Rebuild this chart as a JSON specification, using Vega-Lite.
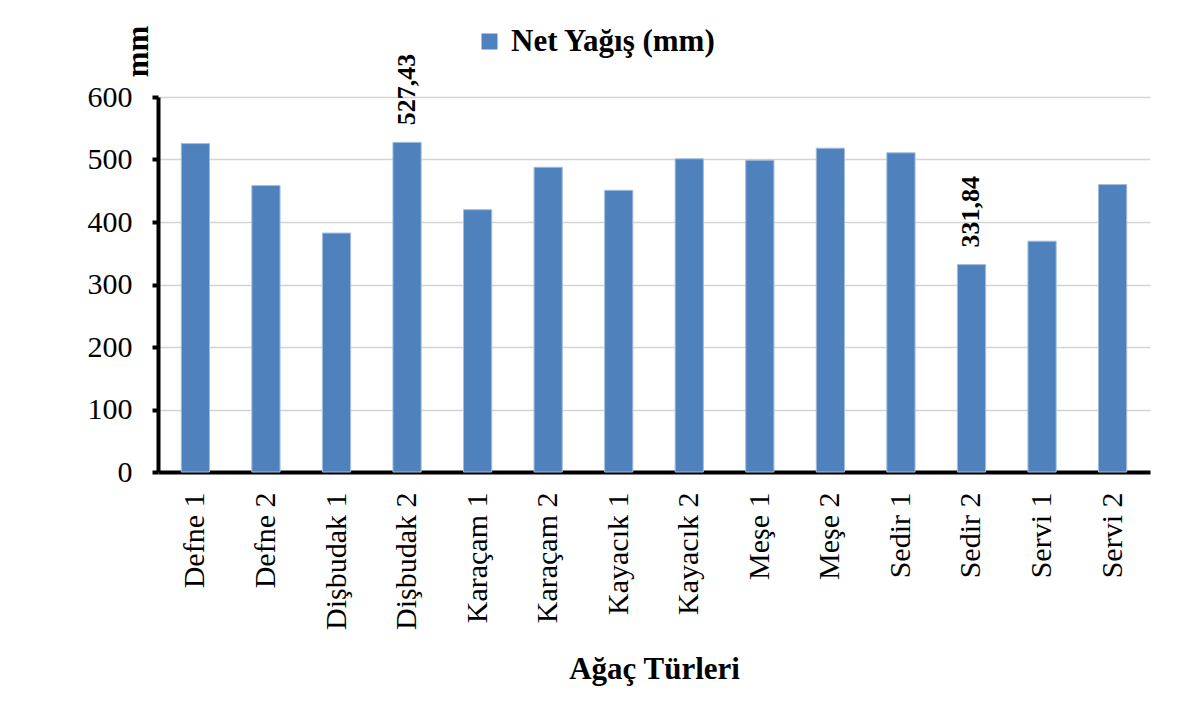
{
  "$schema": "https://vega.github.io/schema/vega-lite/v6.json",
  "autosize": {"type": "none"},
  "width": 992,
  "height": 375,
  "padding": {"left": 158, "top": 97, "right": 34, "bottom": 250},
  "background": "white",
  "config": {
    "font": "Liberation Serif",
    "view": {"stroke": null}
  },
  "data": {
    "values": [
      {"tur": "Defne 1", "yagis": 525.5, "label": ""},
      {"tur": "Defne 2", "yagis": 458.3, "label": ""},
      {"tur": "Dişbudak 1", "yagis": 382.3, "label": ""},
      {"tur": "Dişbudak 2", "yagis": 527.43, "label": "527,43"},
      {"tur": "Karaçam 1", "yagis": 419.7, "label": ""},
      {"tur": "Karaçam 2", "yagis": 487.6, "label": ""},
      {"tur": "Kayacık 1", "yagis": 450.7, "label": ""},
      {"tur": "Kayacık 2", "yagis": 501.1, "label": ""},
      {"tur": "Meşe 1", "yagis": 498.9, "label": ""},
      {"tur": "Meşe 2", "yagis": 518.1, "label": ""},
      {"tur": "Sedir 1", "yagis": 510.7, "label": ""},
      {"tur": "Sedir 2", "yagis": 331.84, "label": "331,84"},
      {"tur": "Servi 1", "yagis": 369.3, "label": ""},
      {"tur": "Servi 2", "yagis": 459.9, "label": ""}
    ]
  },
  "encoding": {
    "x": {
      "field": "tur",
      "type": "nominal",
      "sort": null,
      "scale": {"paddingInner": 0.6, "paddingOuter": 0.33},
      "axis": {
        "title": "Ağaç Türleri",
        "titleFont": "Liberation Serif",
        "titleFontSize": 31,
        "titleFontWeight": "bold",
        "titleColor": "black",
        "titleY": 206,
        "titleBaseline": "alphabetic",
        "labelAngle": -90,
        "labelFont": "Liberation Serif",
        "labelFontSize": 30,
        "labelColor": "black",
        "labelPadding": 20,
        "ticks": false,
        "tickSize": 0,
        "domainColor": "black",
        "domainWidth": 4
      }
    },
    "y": {
      "field": "yagis",
      "type": "quantitative",
      "scale": {"domain": [0, 600], "nice": false},
      "axis": {
        "values": [0, 100, 200, 300, 400, 500, 600],
        "title": "mm",
        "titleFont": "Liberation Serif",
        "titleFontSize": 31,
        "titleFontWeight": "bold",
        "titleColor": "black",
        "titleAngle": 270,
        "titleX": -11,
        "titleY": -46,
        "titleAlign": "center",
        "titleBaseline": "alphabetic",
        "labelFont": "Liberation Serif",
        "labelFontSize": 30,
        "labelColor": "black",
        "labelPadding": 20,
        "tickColor": "black",
        "tickWidth": 4,
        "tickSize": 6,
        "domainColor": "black",
        "domainWidth": 4,
        "grid": true,
        "gridColor": "#D4D4D4",
        "gridWidth": 1.5
      }
    }
  },
  "layer": [
    {
      "mark": {"type": "bar", "stroke": "#A3BDDD", "strokeWidth": 1},
      "encoding": {
        "color": {
          "datum": "Net Yağış (mm)",
          "type": "nominal",
          "scale": {"range": ["#4F81BD"]},
          "legend": {
            "title": null,
            "orient": "none",
            "legendX": 316,
            "legendY": -71,
            "padding": 0,
            "symbolType": "square",
            "symbolSize": 256,
            "symbolStrokeWidth": 0,
            "labelFont": "Liberation Serif",
            "labelFontSize": 31,
            "labelFontWeight": "bold",
            "labelColor": "black",
            "labelOffset": 6,
            "labelLimit": 500
          }
        }
      }
    },
    {
      "transform": [{"filter": "datum.label != ''"}],
      "mark": {
        "type": "text",
        "angle": 270,
        "align": "left",
        "baseline": "middle",
        "dx": 17,
        "font": "Liberation Serif",
        "fontSize": 26,
        "fontWeight": "bold",
        "color": "black"
      },
      "encoding": {
        "text": {"field": "label"}
      }
    }
  ]
}
